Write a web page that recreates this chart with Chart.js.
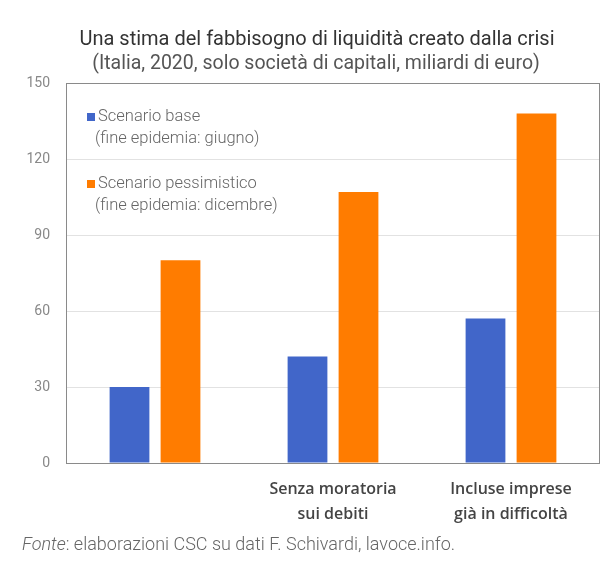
<!DOCTYPE html>
<html>
<head>
<meta charset="utf-8">
<script src="https://cdn.jsdelivr.net/npm/chart.js@4/dist/chart.umd.min.js"></script>
<style>
    html, body {margin: 0; padding: 0; background: #fff;}
    #wrap {width: 603px; height: 561px;}
</style>
</head>
<body>
<div id="wrap"><canvas id="myChart" width="603" height="561"></canvas></div>
<script>
// categories (the first group has no label in the original)
const categories = ['', ['Senza moratoria', 'sui debiti'], ['Incluse imprese', 'già in difficoltà']];
// series
const baseValues = [30, 42, 57];
const pessimisticValues = [80, 107, 138];
const seriesNames = ['Scenario base', 'Scenario pessimistico'];
const seriesNotes = ['(fine epidemia: giugno)', '(fine epidemia: dicembre)'];
const yTicks = [0, 30, 60, 90, 120, 150];

const titleText = 'Una stima del fabbisogno di liquidità creato dalla crisi';
const subtitleText = '(Italia, 2020, solo società di capitali, miliardi di euro)';

const BLUE = '#4166c9';
const ORANGE = '#ff7c00';

// titles, source note, box round the plot and the legend inside it
const decorations = {
    id: 'decorations',
    afterDraw(chart) {
        const ctx = chart.ctx;
        const area = chart.chartArea;
        ctx.save();
        ctx.strokeStyle = '#8a8a8a';
        ctx.lineWidth = 1;
        ctx.strokeRect(area.left + 0.5, area.top + 0.5, area.right - area.left - 1, area.bottom - area.top);

        ctx.textAlign = 'center';
        ctx.textBaseline = 'middle';
        ctx.fillStyle = '#333';
        ctx.font = '20px Roboto';
        ctx.fillText(titleText, 317, 40);
        ctx.fillStyle = '#555';
        ctx.font = '19.5px Roboto';
        ctx.fillText(subtitleText, 316, 64);

        // legend
        ctx.textAlign = 'left';
        const colors = [BLUE, ORANGE];
        const rows = [117, 184];
        chart.data.datasets.forEach((ds, i) => {
            ctx.fillStyle = colors[i];
            ctx.fillRect(87, rows[i] - 4, 8, 8);
            ctx.fillStyle = '#666';
            ctx.font = '300 16.5px Roboto';
            ctx.fillText(seriesNames[i], 98, rows[i]);
            ctx.fillText(seriesNotes[i], 95, rows[i] + 22);
        });

        // source
        ctx.fillStyle = '#666';
        ctx.font = 'italic 300 18px Roboto';
        ctx.fillText('Fonte', 22, 545);
        const w = ctx.measureText('Fonte').width;
        ctx.font = '300 18px Roboto';
        ctx.fillText(': elaborazioni CSC su dati F. Schivardi, lavoce.info.', 22 + w, 545);
        ctx.restore();
    }
};

const ctx = document.getElementById('myChart').getContext('2d');
const myChart = new Chart(ctx, {
    type: 'bar',
    data: {
        labels: categories,
        datasets: [{
            label: seriesNames[0],
            data: baseValues,
            backgroundColor: BLUE,
            barPercentage: 0.78,
            categoryPercentage: 0.573
        }, {
            label: seriesNames[1],
            data: pessimisticValues,
            backgroundColor: ORANGE,
            barPercentage: 0.78,
            categoryPercentage: 0.573
        }]
    },
    options: {
        responsive: false,
        animation: false,
        layout: {
            padding: {left: 0, top: 83, right: 3, bottom: 36}
        },
        plugins: {
            legend: {display: false},
            title: {display: false},
            tooltip: {enabled: false}
        },
        scales: {
            x: {
                grid: {display: false},
                border: {display: false},
                ticks: {
                    color: '#444',
                    font: {family: 'Open Sans', size: 16, weight: '600', lineHeight: 1.55},
                    padding: 6,
                    maxRotation: 0,
                    autoSkip: false
                },
                afterFit(scale) { scale.height = 62; }
            },
            y: {
                min: 0,
                max: 150,
                afterBuildTicks(scale) { scale.ticks = yTicks.map(v => ({value: v})); },
                grid: {
                    color: (c) => (c.tick && (c.tick.value === 0 || c.tick.value === 150)) ? 'rgba(0,0,0,0)' : '#e2e2e2',
                    drawTicks: false
                },
                border: {display: false},
                ticks: {
                    color: '#888',
                    font: {family: 'Roboto', size: 14},
                    padding: 16
                },
                afterFit(scale) { scale.width = 66; }
            }
        }
    },
    plugins: [decorations]
});
</script>
</body>
</html>
